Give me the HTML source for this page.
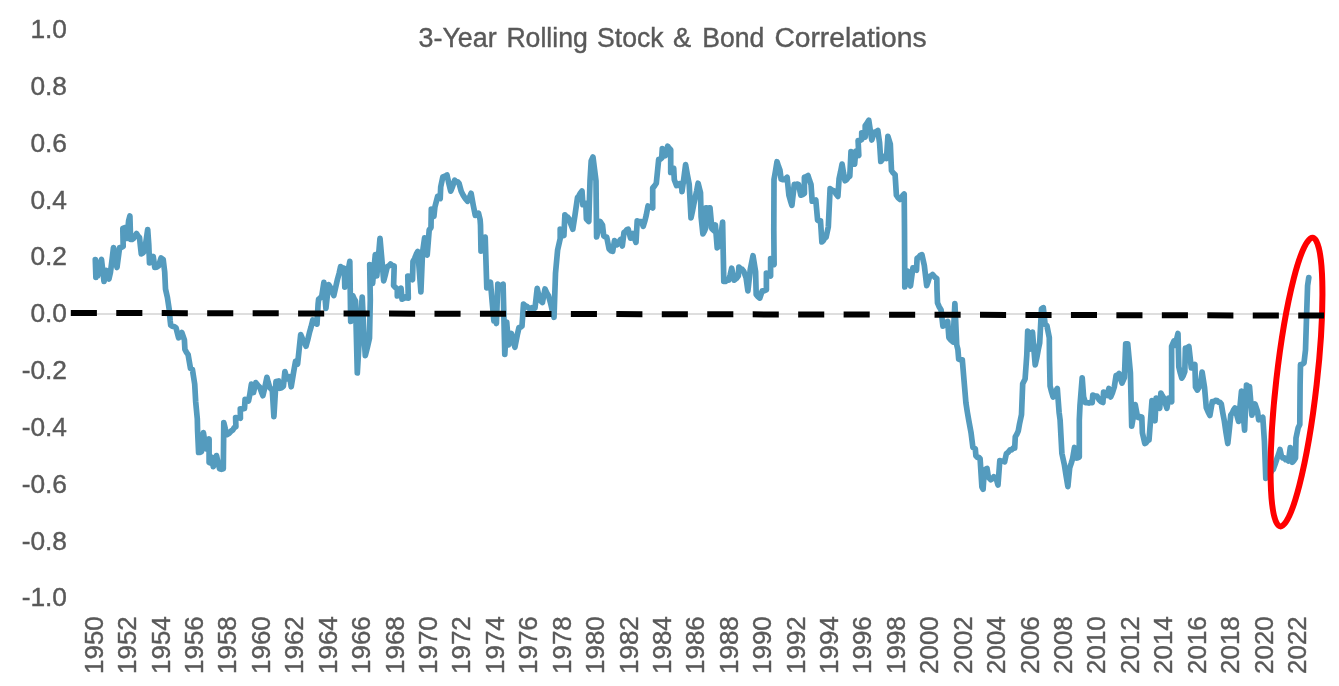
<!DOCTYPE html>
<html><head><meta charset="utf-8"><title>3-Year Rolling Stock &amp; Bond Correlations</title>
<style>html,body{margin:0;padding:0;background:#fff}body{width:1339px;height:686px;overflow:hidden}svg{display:block;will-change:transform}text{font-family:"Liberation Sans",sans-serif;fill:#595959;stroke:#595959;stroke-width:0.4px}</style></head><body>
<svg width="1339" height="686" viewBox="0 0 1339 686">
<rect width="1339" height="686" fill="#fff"/>
<text x="418.5" y="47.3" font-size="27.00" textLength="78.2" lengthAdjust="spacingAndGlyphs">3-Year</text>
<text x="506.4" y="47.3" font-size="27.00" textLength="81.4" lengthAdjust="spacingAndGlyphs">Rolling</text>
<text x="597.1" y="47.3" font-size="27.00" textLength="66.5" lengthAdjust="spacingAndGlyphs">Stock</text>
<text x="673.0" y="47.3" font-size="27.00" textLength="18.2" lengthAdjust="spacingAndGlyphs">&amp;</text>
<text x="702.3" y="47.3" font-size="27.00" textLength="62.1" lengthAdjust="spacingAndGlyphs">Bond</text>
<text x="774.4" y="47.3" font-size="27.00" textLength="152.1" lengthAdjust="spacingAndGlyphs">Correlations</text>
<text transform="translate(67.0 38.20) scale(1.040 1)" font-size="25.30" text-anchor="end">1.0</text>
<text transform="translate(67.0 95.02) scale(1.040 1)" font-size="25.30" text-anchor="end">0.8</text>
<text transform="translate(67.0 151.84) scale(1.040 1)" font-size="25.30" text-anchor="end">0.6</text>
<text transform="translate(67.0 208.66) scale(1.040 1)" font-size="25.30" text-anchor="end">0.4</text>
<text transform="translate(67.0 265.48) scale(1.040 1)" font-size="25.30" text-anchor="end">0.2</text>
<text transform="translate(67.0 322.30) scale(1.040 1)" font-size="25.30" text-anchor="end">0.0</text>
<text transform="translate(67.0 379.12) scale(1.040 1)" font-size="25.30" text-anchor="end">-0.2</text>
<text transform="translate(67.0 435.94) scale(1.040 1)" font-size="25.30" text-anchor="end">-0.4</text>
<text transform="translate(67.0 492.76) scale(1.040 1)" font-size="25.30" text-anchor="end">-0.6</text>
<text transform="translate(67.0 549.58) scale(1.040 1)" font-size="25.30" text-anchor="end">-0.8</text>
<text transform="translate(67.0 606.40) scale(1.040 1)" font-size="25.30" text-anchor="end">-1.0</text>
<text transform="translate(102.80 616.20) rotate(-90)" font-size="26.00" text-anchor="end" textLength="57.8" lengthAdjust="spacingAndGlyphs">1950</text>
<text transform="translate(136.22 616.20) rotate(-90)" font-size="26.00" text-anchor="end" textLength="57.8" lengthAdjust="spacingAndGlyphs">1952</text>
<text transform="translate(169.64 616.20) rotate(-90)" font-size="26.00" text-anchor="end" textLength="57.8" lengthAdjust="spacingAndGlyphs">1954</text>
<text transform="translate(203.06 616.20) rotate(-90)" font-size="26.00" text-anchor="end" textLength="57.8" lengthAdjust="spacingAndGlyphs">1956</text>
<text transform="translate(236.48 616.20) rotate(-90)" font-size="26.00" text-anchor="end" textLength="57.8" lengthAdjust="spacingAndGlyphs">1958</text>
<text transform="translate(269.90 616.20) rotate(-90)" font-size="26.00" text-anchor="end" textLength="57.8" lengthAdjust="spacingAndGlyphs">1960</text>
<text transform="translate(303.32 616.20) rotate(-90)" font-size="26.00" text-anchor="end" textLength="57.8" lengthAdjust="spacingAndGlyphs">1962</text>
<text transform="translate(336.74 616.20) rotate(-90)" font-size="26.00" text-anchor="end" textLength="57.8" lengthAdjust="spacingAndGlyphs">1964</text>
<text transform="translate(370.16 616.20) rotate(-90)" font-size="26.00" text-anchor="end" textLength="57.8" lengthAdjust="spacingAndGlyphs">1966</text>
<text transform="translate(403.58 616.20) rotate(-90)" font-size="26.00" text-anchor="end" textLength="57.8" lengthAdjust="spacingAndGlyphs">1968</text>
<text transform="translate(437.00 616.20) rotate(-90)" font-size="26.00" text-anchor="end" textLength="57.8" lengthAdjust="spacingAndGlyphs">1970</text>
<text transform="translate(470.42 616.20) rotate(-90)" font-size="26.00" text-anchor="end" textLength="57.8" lengthAdjust="spacingAndGlyphs">1972</text>
<text transform="translate(503.84 616.20) rotate(-90)" font-size="26.00" text-anchor="end" textLength="57.8" lengthAdjust="spacingAndGlyphs">1974</text>
<text transform="translate(537.26 616.20) rotate(-90)" font-size="26.00" text-anchor="end" textLength="57.8" lengthAdjust="spacingAndGlyphs">1976</text>
<text transform="translate(570.68 616.20) rotate(-90)" font-size="26.00" text-anchor="end" textLength="57.8" lengthAdjust="spacingAndGlyphs">1978</text>
<text transform="translate(604.10 616.20) rotate(-90)" font-size="26.00" text-anchor="end" textLength="57.8" lengthAdjust="spacingAndGlyphs">1980</text>
<text transform="translate(637.52 616.20) rotate(-90)" font-size="26.00" text-anchor="end" textLength="57.8" lengthAdjust="spacingAndGlyphs">1982</text>
<text transform="translate(670.94 616.20) rotate(-90)" font-size="26.00" text-anchor="end" textLength="57.8" lengthAdjust="spacingAndGlyphs">1984</text>
<text transform="translate(704.36 616.20) rotate(-90)" font-size="26.00" text-anchor="end" textLength="57.8" lengthAdjust="spacingAndGlyphs">1986</text>
<text transform="translate(737.78 616.20) rotate(-90)" font-size="26.00" text-anchor="end" textLength="57.8" lengthAdjust="spacingAndGlyphs">1988</text>
<text transform="translate(771.20 616.20) rotate(-90)" font-size="26.00" text-anchor="end" textLength="57.8" lengthAdjust="spacingAndGlyphs">1990</text>
<text transform="translate(804.62 616.20) rotate(-90)" font-size="26.00" text-anchor="end" textLength="57.8" lengthAdjust="spacingAndGlyphs">1992</text>
<text transform="translate(838.04 616.20) rotate(-90)" font-size="26.00" text-anchor="end" textLength="57.8" lengthAdjust="spacingAndGlyphs">1994</text>
<text transform="translate(871.46 616.20) rotate(-90)" font-size="26.00" text-anchor="end" textLength="57.8" lengthAdjust="spacingAndGlyphs">1996</text>
<text transform="translate(904.88 616.20) rotate(-90)" font-size="26.00" text-anchor="end" textLength="57.8" lengthAdjust="spacingAndGlyphs">1998</text>
<text transform="translate(938.30 616.20) rotate(-90)" font-size="26.00" text-anchor="end" textLength="57.8" lengthAdjust="spacingAndGlyphs">2000</text>
<text transform="translate(971.72 616.20) rotate(-90)" font-size="26.00" text-anchor="end" textLength="57.8" lengthAdjust="spacingAndGlyphs">2002</text>
<text transform="translate(1005.14 616.20) rotate(-90)" font-size="26.00" text-anchor="end" textLength="57.8" lengthAdjust="spacingAndGlyphs">2004</text>
<text transform="translate(1038.56 616.20) rotate(-90)" font-size="26.00" text-anchor="end" textLength="57.8" lengthAdjust="spacingAndGlyphs">2006</text>
<text transform="translate(1071.98 616.20) rotate(-90)" font-size="26.00" text-anchor="end" textLength="57.8" lengthAdjust="spacingAndGlyphs">2008</text>
<text transform="translate(1105.40 616.20) rotate(-90)" font-size="26.00" text-anchor="end" textLength="57.8" lengthAdjust="spacingAndGlyphs">2010</text>
<text transform="translate(1138.82 616.20) rotate(-90)" font-size="26.00" text-anchor="end" textLength="57.8" lengthAdjust="spacingAndGlyphs">2012</text>
<text transform="translate(1172.24 616.20) rotate(-90)" font-size="26.00" text-anchor="end" textLength="57.8" lengthAdjust="spacingAndGlyphs">2014</text>
<text transform="translate(1205.66 616.20) rotate(-90)" font-size="26.00" text-anchor="end" textLength="57.8" lengthAdjust="spacingAndGlyphs">2016</text>
<text transform="translate(1239.08 616.20) rotate(-90)" font-size="26.00" text-anchor="end" textLength="57.8" lengthAdjust="spacingAndGlyphs">2018</text>
<text transform="translate(1272.50 616.20) rotate(-90)" font-size="26.00" text-anchor="end" textLength="57.8" lengthAdjust="spacingAndGlyphs">2020</text>
<text transform="translate(1305.92 616.20) rotate(-90)" font-size="26.00" text-anchor="end" textLength="57.8" lengthAdjust="spacingAndGlyphs">2022</text>
<line x1="94.0" y1="313.90" x2="1312.0" y2="313.90" stroke="#D3D3D3" stroke-width="1.5"/>
<polyline fill="none" stroke="#549BBE" stroke-width="5.70" stroke-linejoin="round" stroke-linecap="round" points="95.3,259.5 95.9,277.5 96.9,262.0 97.6,276.0 98.4,263.0 99.0,266.0 101.5,259.5 104.0,281.5 106.5,270.5 108.9,279.0 110.5,272.0 112.0,260.1 113.5,247.5 115.5,260.0 117.0,267.5 119.6,247.5 121.4,247.3 123.2,246.5 122.8,228.5 125.5,227.5 127.0,238.5 128.6,221.0 129.9,216.0 130.6,239.5 132.1,239.5 133.5,238.5 135.0,236.3 136.5,233.5 138.0,236.0 139.5,237.5 140.5,247.0 141.3,254.0 142.9,252.9 144.5,251.0 146.5,238.0 147.7,229.5 148.8,245.0 149.5,263.0 151.3,260.1 153.2,256.5 154.8,267.5 156.7,267.2 158.5,266.0 161.1,258.0 163.2,259.5 164.7,272.0 165.5,289.0 167.4,297.4 169.2,309.4 170.2,321.0 170.7,325.2 172.5,326.4 174.2,326.5 176.0,327.8 178.6,337.8 180.2,335.5 181.8,332.5 184.4,339.9 184.9,349.3 186.5,352.3 188.1,354.6 189.2,361.0 190.5,368.4 192.4,369.5 194.7,384.1 195.7,402.0 197.3,418.8 197.6,431.0 198.6,452.5 200.1,452.4 201.5,451.5 203.4,432.6 206.0,448.8 207.6,444.4 209.1,438.9 209.1,462.5 210.2,463.0 211.8,457.2 213.3,466.7 214.9,461.5 216.5,455.6 218.1,462.6 219.6,468.8 221.4,469.3 223.3,468.8 223.8,422.6 225.4,429.2 227.0,434.7 229.1,433.3 231.2,431.0 232.8,430.0 234.3,427.6 235.9,426.8 235.6,417.5 237.2,418.0 238.8,417.4 240.4,418.2 240.3,408.8 242.4,409.0 244.5,408.5 245.1,399.3 246.8,400.5 248.5,401.0 249.8,394.6 251.4,384.1 253.5,392.5 255.8,382.6 257.8,385.3 259.8,387.3 261.4,391.9 262.9,395.7 264.9,387.0 266.9,377.3 268.3,382.7 269.7,387.3 272.3,390.4 273.9,416.7 276.0,381.5 278.6,381.0 279.7,388.3 281.5,387.7 283.4,386.2 284.9,371.5 287.0,378.9 289.7,376.8 291.2,386.8 293.9,370.5 295.5,361.5 297.6,364.0 299.1,349.8 300.7,334.6 302.5,338.9 304.2,341.9 306.0,346.2 307.7,340.0 309.4,332.8 311.1,326.9 312.8,320.0 314.9,322.6 317.0,324.1 318.1,304.0 318.6,299.2 320.2,298.0 321.8,296.0 323.9,282.4 325.9,308.4 328.6,284.5 331.2,288.7 333.8,295.5 335.6,287.7 337.5,279.2 339.1,273.4 340.6,266.6 342.5,267.8 344.3,268.2 344.8,287.1 347.5,274.0 349.8,261.4 350.7,321.5 352.7,295.5 354.1,298.6 355.5,301.0 357.3,373.0 359.8,330.0 362.2,297.0 363.7,330.0 365.3,355.6 367.4,347.3 369.5,338.0 370.3,300.0 369.7,264.5 371.1,274.5 372.6,283.4 375.3,254.6 376.8,276.0 378.4,257.5 380.0,238.3 381.9,260.0 383.7,280.8 385.5,274.2 387.3,266.6 388.9,265.9 390.5,264.0 392.4,265.6 394.2,266.1 393.6,285.5 395.5,287.6 397.3,289.0 397.3,296.0 399.1,292.6 401.0,288.1 402.0,299.2 403.6,298.4 405.2,297.0 406.8,298.0 408.3,298.1 407.8,276.1 410.4,276.6 412.5,279.7 413.0,261.4 414.6,258.6 416.2,254.4 417.8,251.4 419.4,272.0 420.9,291.8 422.5,253.0 424.6,237.8 427.2,255.1 428.8,235.0 429.2,230.0 431.0,227.5 431.3,209.0 433.9,216.4 434.9,207.0 437.6,196.5 440.2,198.6 440.7,187.0 442.8,177.0 444.9,176.3 447.0,175.0 448.9,183.6 450.7,191.2 452.7,186.2 454.7,180.2 456.2,181.7 457.6,181.8 459.1,183.4 461.2,191.2 463.3,195.4 465.4,198.7 467.5,201.2 469.3,197.8 471.1,193.3 473.2,204.9 475.3,215.4 476.9,214.8 478.5,213.3 480.1,219.6 480.5,225.0 481.0,251.2 483.1,244.6 485.2,237.1 486.8,288.0 488.6,285.5 490.5,282.2 492.2,302.2 493.9,321.0 495.2,317.0 496.4,323.5 497.8,284.2 500.4,286.5 503.1,284.2 504.8,354.4 506.7,322.0 508.5,345.0 509.9,339.8 511.4,333.5 513.1,340.8 514.9,347.3 517.5,334.0 519.0,327.5 520.5,327.2 522.0,326.0 523.5,304.1 525.3,305.8 527.0,306.4 528.8,308.3 530.3,308.7 531.9,307.6 533.5,308.6 535.0,308.0 537.2,288.4 539.8,300.0 542.4,302.6 545.0,289.0 546.8,292.9 548.6,296.0 550.8,304.0 552.4,311.1 554.0,317.3 555.5,273.3 557.6,250.2 560.2,238.6 560.2,229.2 562.0,232.9 563.9,235.5 564.9,214.9 566.3,216.6 567.7,217.2 569.1,219.0 571.0,224.5 572.8,229.2 575.0,215.0 577.5,197.6 579.0,195.7 580.5,192.9 582.0,191.0 582.9,204.7 584.3,204.6 585.8,203.5 586.4,219.0 588.8,221.5 590.0,181.0 591.2,161.0 593.0,157.0 594.5,169.2 596.0,180.8 596.6,237.0 598.4,229.6 600.2,221.5 602.5,225.0 603.7,235.8 605.2,236.8 606.7,237.0 609.1,249.0 610.9,250.8 612.7,251.4 614.5,240.6 616.9,244.8 618.7,242.4 620.5,239.4 622.3,246.0 624.0,232.3 625.4,231.7 626.8,229.8 628.2,229.3 630.6,238.2 633.0,233.5 634.5,238.5 636.0,242.4 637.2,220.9 639.3,221.7 641.4,221.5 643.2,226.3 644.7,221.5 646.2,215.5 648.0,206.0 649.6,207.1 651.1,206.9 652.7,208.0 652.7,188.0 654.5,186.0 656.3,183.2 658.7,159.3 660.2,159.2 661.7,158.0 662.3,148.6 663.8,152.8 665.3,155.8 667.7,146.2 669.2,148.3 670.7,149.8 670.7,172.5 672.2,170.8 673.7,168.3 674.3,179.7 676.6,185.6 678.2,185.2 679.8,183.6 681.4,183.2 682.0,191.6 683.8,178.6 685.6,164.7 687.4,175.0 689.2,184.4 691.0,217.9 692.4,211.5 693.8,204.1 695.2,197.6 696.7,190.8 698.1,183.2 700.5,192.8 701.1,216.7 702.9,234.0 704.4,231.2 705.9,227.5 705.9,207.8 708.0,208.3 710.0,207.8 711.9,228.7 714.3,231.0 715.4,225.0 717.2,247.8 719.6,245.4 721.1,234.3 722.6,222.1 723.8,281.4 725.4,281.5 727.1,280.1 728.7,280.2 730.2,274.7 731.7,268.2 734.1,280.2 736.2,278.6 738.3,276.0 738.9,267.0 740.5,268.7 742.1,269.2 743.7,271.2 746.1,277.8 747.9,290.9 750.3,269.4 753.0,255.7 755.6,271.8 756.2,294.5 758.0,296.8 759.8,298.1 762.2,290.9 764.3,290.9 766.4,289.7 766.4,273.0 767.8,274.5 769.2,274.6 770.6,276.0 770.6,258.7 772.4,262.1 774.1,264.6 773.8,230.0 774.0,179.6 775.5,171.0 777.0,161.7 778.5,166.3 779.9,170.0 781.1,179.0 782.6,179.6 784.1,179.6 785.6,178.8 787.1,177.3 788.9,195.2 790.4,200.6 791.9,205.3 794.3,184.4 795.7,184.7 797.1,184.0 798.5,184.4 800.8,195.2 802.6,194.6 804.4,193.4 804.4,177.3 806.2,176.7 808.0,175.5 809.5,180.3 811.0,184.4 812.2,201.2 814.0,200.9 815.8,200.0 817.6,220.3 819.0,221.0 820.5,220.9 821.9,242.0 823.3,240.7 824.7,238.2 826.1,237.2 828.3,227.0 830.1,188.6 832.2,190.3 834.3,191.0 836.1,194.0 837.9,196.4 839.1,178.5 840.6,171.7 842.1,164.1 843.5,172.9 845.0,180.8 846.6,179.6 848.2,177.3 849.8,176.1 851.0,151.6 852.8,158.5 854.6,164.2 855.8,151.0 857.3,153.8 858.8,155.4 858.1,140.6 859.9,140.4 861.7,139.4 861.7,132.9 863.5,135.4 865.2,137.0 865.2,125.7 867.0,123.3 868.8,120.3 870.3,130.5 871.8,140.0 874.2,132.3 876.0,131.8 877.8,130.5 879.6,143.0 880.8,161.5 882.6,159.2 884.4,156.2 886.5,158.5 887.9,136.4 890.3,144.2 891.5,170.5 892.8,172.5 895.1,174.8 896.4,195.2 898.2,197.8 900.0,199.4 901.4,197.9 902.8,195.5 904.2,194.0 904.5,230.0 904.8,286.9 907.5,271.0 909.0,279.1 910.5,286.0 912.9,267.8 914.7,269.5 916.5,270.2 917.1,258.2 918.7,257.3 920.3,255.3 921.9,254.6 924.3,265.4 926.7,285.7 928.2,281.3 929.7,276.2 931.2,275.8 932.6,274.4 934.7,277.1 936.8,278.6 937.0,290.0 937.5,302.9 939.3,307.0 941.1,310.0 942.9,326.2 944.5,325.1 946.1,322.6 947.7,321.4 948.9,337.6 951.0,340.2 953.0,342.0 954.9,303.5 956.7,344.7 957.9,349.5 958.7,359.2 960.5,359.9 962.3,359.8 964.1,381.3 965.9,402.8 967.3,411.9 968.7,420.0 971.1,433.1 972.9,447.5 975.3,448.7 975.9,455.8 977.3,457.3 978.7,457.3 980.1,458.8 981.9,486.9 983.1,489.3 984.3,470.2 987.0,468.4 988.4,477.3 990.8,479.7 992.3,478.6 993.8,476.7 996.2,478.5 998.0,485.1 999.8,460.6 1001.4,461.4 1003.0,460.9 1004.6,461.8 1006.4,453.5 1008.2,452.3 1010.0,449.9 1011.6,449.9 1013.1,448.2 1014.7,448.1 1015.3,436.7 1016.8,434.3 1018.3,430.8 1019.5,424.0 1021.5,414.7 1022.7,383.7 1025.1,378.9 1026.8,355.0 1027.7,331.0 1030.5,349.0 1032.5,332.2 1035.2,365.0 1036.7,358.2 1038.2,349.9 1039.7,342.9 1041.5,308.9 1043.3,307.7 1045.1,324.4 1046.9,325.6 1049.3,337.6 1049.5,360.0 1050.1,386.1 1051.6,392.0 1053.1,397.0 1054.5,394.6 1055.9,391.0 1057.3,388.5 1059.1,412.3 1060.1,420.0 1061.9,453.5 1064.3,464.3 1066.1,475.8 1067.9,486.6 1069.7,467.8 1071.2,463.4 1072.7,458.2 1074.5,447.5 1076.9,458.0 1079.3,457.0 1079.3,420.0 1080.0,405.2 1082.2,377.8 1083.6,396.8 1085.4,402.7 1087.4,402.7 1089.0,403.1 1090.6,402.2 1092.2,402.7 1092.8,395.0 1094.8,396.1 1096.9,396.0 1099.3,400.0 1101.1,401.7 1102.9,402.5 1103.6,392.0 1105.3,394.3 1107.1,395.5 1108.9,388.5 1110.7,397.0 1112.5,392.6 1114.3,387.0 1116.1,375.5 1117.6,375.1 1119.1,373.5 1120.5,378.7 1122.0,383.0 1124.4,377.6 1125.7,343.8 1127.7,343.8 1130.4,372.8 1131.7,426.2 1133.5,415.7 1135.2,404.5 1137.6,417.3 1139.0,417.6 1140.4,416.7 1141.8,417.0 1142.4,432.8 1144.8,443.5 1146.2,442.7 1147.6,440.7 1149.0,440.0 1150.5,420.8 1152.0,400.5 1153.5,411.2 1155.0,420.8 1156.2,398.0 1158.0,403.6 1159.7,408.3 1160.9,393.0 1162.4,396.0 1163.9,398.1 1165.4,403.7 1166.9,408.3 1168.7,398.1 1170.2,400.2 1171.7,401.7 1171.6,346.5 1174.0,341.0 1175.2,345.3 1178.0,333.5 1178.8,366.8 1180.3,373.0 1181.8,378.2 1183.3,375.5 1184.8,371.6 1185.4,348.0 1187.2,347.8 1188.9,346.5 1191.3,368.0 1193.1,366.8 1194.9,364.5 1195.5,387.1 1197.3,390.1 1198.8,387.8 1200.3,384.7 1202.1,372.0 1204.5,387.1 1206.3,407.7 1208.1,412.0 1209.9,415.5 1212.3,401.5 1213.9,401.7 1215.5,400.4 1217.1,400.5 1218.5,402.2 1219.9,402.3 1221.3,404.1 1222.8,412.9 1224.3,420.8 1226.0,432.6 1227.8,443.5 1229.3,429.8 1230.8,414.9 1232.2,413.1 1233.6,409.9 1235.0,408.0 1236.8,415.0 1238.6,421.4 1240.0,406.5 1241.5,391.0 1243.0,411.2 1244.6,430.2 1246.5,385.0 1248.0,386.3 1249.5,386.5 1251.9,415.2 1253.5,409.9 1255.0,404.0 1257.5,411.5 1258.7,419.8 1260.8,419.1 1262.8,417.3 1264.4,441.0 1265.8,478.3 1267.3,477.1 1268.8,474.2 1270.3,473.4 1271.8,470.7 1273.3,469.4 1275.1,464.4 1276.9,458.8 1278.5,454.5 1280.0,449.5 1281.5,456.5 1282.9,458.0 1284.3,457.8 1285.7,459.7 1287.1,459.5 1288.5,461.0 1290.3,447.5 1292.3,462.3 1293.9,460.6 1295.5,458.0 1296.0,438.0 1298.2,427.7 1299.8,424.5 1300.1,385.0 1300.5,364.5 1302.2,364.3 1304.0,363.0 1305.5,350.0 1306.5,318.3 1307.6,285.6 1308.8,277.5"/>
<ellipse cx="1296.5" cy="382.1" rx="20.3" ry="145.2" transform="rotate(6.44 1296.5 382.1)" fill="none" stroke="#FF0000" stroke-width="6.0"/>
<line x1="70.8" y1="312.90" x2="1324.0" y2="315.60" stroke="#000" stroke-width="6.0" stroke-dasharray="26.10 19.36"/>
</svg></body></html>
